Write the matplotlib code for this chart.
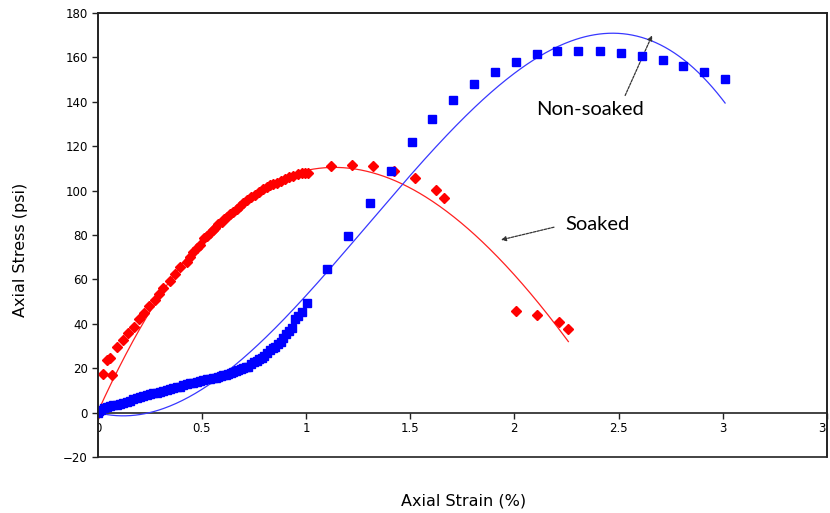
import numpy as np
import matplotlib
matplotlib.use("Agg")
import matplotlib.pyplot as plt
from matplotlib.patches import Rectangle

# Soaked specimen: axial strain (%) and axial stress (psi)
soaked_strain = [
    0.0, 0.025, 0.045, 0.06, 0.07, 0.095, 0.124, 0.148, 0.177, 0.2,
    0.225, 0.249, 0.276, 0.297, 0.316, 0.348, 0.372, 0.396, 0.428, 0.444,
    0.46, 0.476, 0.492, 0.511, 0.525, 0.54, 0.552, 0.564, 0.58, 0.596,
    0.608, 0.62, 0.636, 0.652, 0.668, 0.684, 0.70, 0.716, 0.736, 0.756,
    0.776, 0.796, 0.812, 0.828, 0.844, 0.86, 0.88, 0.9, 0.92, 0.94,
    0.96, 0.98, 0.995, 1.01, 1.12, 1.223, 1.323, 1.424, 1.523, 1.623,
    1.664, 2.008, 2.107, 2.216, 2.259,
]
soaked_stress = [
    0.0, 17.5, 23.5, 24.5, 17.0, 29.4, 32.7, 36.0, 38.7, 42.0,
    45.0, 48.0, 50.7, 53.3, 56.0, 59.4, 62.4, 65.4, 68.0, 70.2,
    72.5, 74.2, 75.5, 78.5, 79.6, 80.8, 82.1, 83.3, 84.8, 86.0,
    87.2, 88.3, 89.4, 90.5, 91.8, 93.0, 94.5, 95.8, 97.0, 98.0,
    99.4, 100.6, 101.6, 102.5, 103.1, 103.6, 104.4, 105.2, 106.0, 106.7,
    107.3, 107.8, 107.9, 108.0, 111.0, 111.7, 111.0, 109.0, 105.5, 100.3,
    96.8, 45.8, 43.8, 41.0, 37.7,
]

# Non-soaked specimen
nonsoaked_strain = [
    0.0, 0.008, 0.016, 0.03, 0.044, 0.06, 0.076, 0.092, 0.108, 0.124,
    0.14, 0.156, 0.172, 0.188, 0.204, 0.22, 0.236, 0.252, 0.268, 0.284,
    0.3, 0.316, 0.332, 0.348, 0.364, 0.38, 0.396, 0.412, 0.428, 0.444,
    0.46, 0.476, 0.492, 0.508, 0.524, 0.54, 0.556, 0.568, 0.58, 0.592,
    0.604, 0.616, 0.628, 0.64, 0.652, 0.664, 0.676, 0.688, 0.70, 0.712,
    0.724, 0.738, 0.751, 0.764, 0.776, 0.788, 0.80, 0.814, 0.828, 0.84,
    0.852, 0.866, 0.88, 0.892, 0.903, 0.918, 0.932, 0.948, 0.964, 0.98,
    1.004, 1.103, 1.204, 1.308, 1.408, 1.508, 1.607, 1.707, 1.807, 1.907,
    2.007, 2.107, 2.206, 2.307, 2.411, 2.51, 2.611, 2.712, 2.81, 2.91,
    3.011,
]
nonsoaked_stress = [
    0.0, 0.6, 1.3, 1.9, 2.4, 2.9, 3.3, 3.6, 3.9, 4.2,
    4.6, 5.3, 6.0, 6.5, 6.9, 7.4, 7.9, 8.3, 8.7, 9.0,
    9.4, 9.8, 10.2, 10.6, 10.9, 11.3, 11.7, 12.2, 12.7, 13.1,
    13.5, 14.0, 14.4, 14.7, 15.0, 15.2, 15.4, 15.8, 16.2, 16.5,
    16.9, 17.1, 17.4, 17.9, 18.4, 18.8, 19.2, 19.7, 20.2, 20.4,
    20.7, 21.7, 22.7, 23.4, 24.1, 24.8, 25.6, 26.9, 28.2, 28.9,
    29.7, 30.9, 32.0, 33.6, 35.3, 36.7, 38.0, 42.0, 43.6, 45.2,
    49.2, 64.7, 79.5, 94.3, 109.0, 121.8, 132.1, 140.8, 148.0, 153.4,
    158.0, 161.5, 162.9, 162.9, 162.9, 162.1, 160.8, 158.8, 156.1, 153.4,
    150.1,
]

x_ticks = [0, 0.5, 1, 1.5, 2, 2.5, 3, 3.5]
x_tick_labels = ["0", "0.5", "1", "1.5", "2", "2.5", "3", "3.5"]
y_ticks = list(range(-20, 181, 20))

fig = plt.figure(figsize=(8.30, 5.13), dpi=100)
ax = fig.add_axes([0.1175, 0.1092, 0.8789, 0.8655])
ax.set_xlim(0, 3.5)
ax.set_ylim(-20, 180)


def trend(x, y, deg=3):
    """Least-squares polynomial trend line forced through the origin."""
    x = np.asarray(x, float)
    y = np.asarray(y, float)
    basis = np.column_stack([x ** k for k in range(1, deg + 1)])
    coef, *_ = np.linalg.lstsq(basis, y, rcond=None)
    xs = np.linspace(0, x.max(), 400)
    ys = sum(c * xs ** (k + 1) for k, c in enumerate(coef))
    return xs, ys


xs, ys = trend(soaked_strain, soaked_stress)
ax.plot(xs, ys, color="#ff2020", lw=0.9, zorder=3)
xs, ys = trend(nonsoaked_strain, nonsoaked_stress)
ax.plot(xs, ys, color="#3838ff", lw=0.9, zorder=3)

ax.plot(soaked_strain, soaked_stress, ls="none", marker="D", ms=4.6,
        color="#ff0000", mec="#ff0000", zorder=4)
ax.plot(nonsoaked_strain, nonsoaked_stress, ls="none", marker="s", ms=5.3,
        color="#0000ff", mec="#0000ff", zorder=4)

# x axis crosses at zero; a box frames the full range
for s in ("left", "right", "top", "bottom"):
    ax.spines[s].set_color("#222222")
    ax.spines[s].set_linewidth(1.2)
ax.spines["bottom"].set_position(("data", 0))
ax.add_patch(Rectangle((0, 0), 1, 1, transform=ax.transAxes, fill=False,
                       ec="#222222", lw=1.2, clip_on=False, zorder=5))

ax.set_xticks(x_ticks)
ax.set_xticklabels(x_tick_labels)
ax.set_yticks(y_ticks)
ax.tick_params(axis="both", direction="out", length=4, width=1, pad=3,
               labelsize=8.5, colors="#222222", labelcolor="black")
for lab in ax.get_xticklabels():
    lab.set_clip_on(True)
    lab.set_clip_box(ax.bbox)

W, H = 830, 513
fig.text(464 / W, 1 - 501 / H, "Axial Strain (%)", ha="center", va="center",
         fontsize=11.5, family="DejaVu Sans")
fig.text(20 / W, 1 - 250 / H, "Axial Stress (psi)", ha="center", va="center",
         rotation=90, fontsize=11.5, family="DejaVu Sans")

ax.annotate("", xy=(2.666, 171.0), xytext=(2.526, 141.7),
            arrowprops=dict(arrowstyle="-|>", color="#333333", lw=0.9,
                            ls=(0, (2, 1)), mutation_scale=7))
ax.annotate("", xy=(1.923, 77.5), xytext=(2.203, 83.8),
            arrowprops=dict(arrowstyle="-|>", color="#333333", lw=0.9,
                            ls=(0, (2, 1)), mutation_scale=7))
ax.text(2.105, 136.5, "Non-soaked", fontsize=14.5, family="Lato",
        ha="left", va="center")
ax.text(2.246, 84.5, "Soaked", fontsize=14.5, family="Lato",
        ha="left", va="center")

fig.savefig("out.png", dpi=100)
